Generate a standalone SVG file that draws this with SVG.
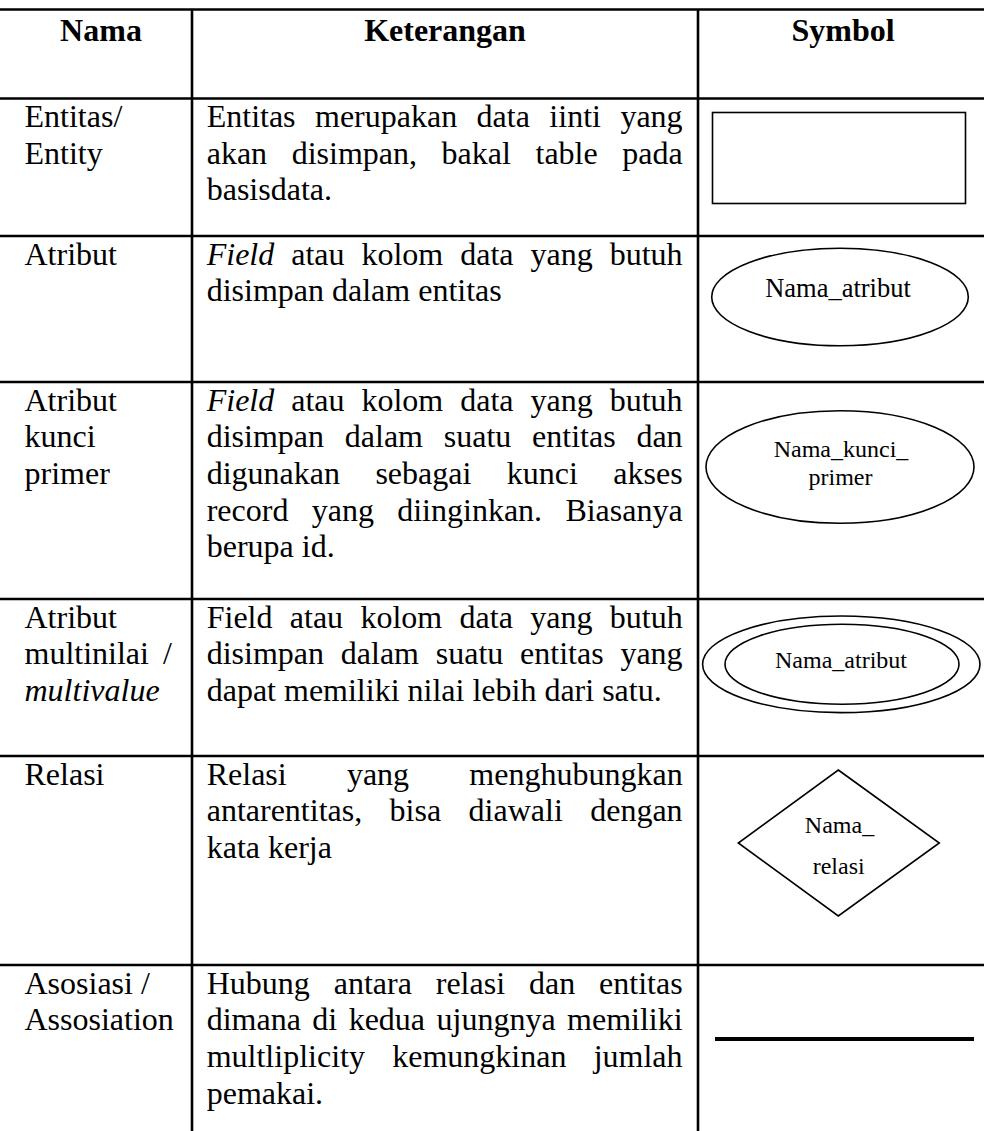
<svg xmlns="http://www.w3.org/2000/svg" width="984" height="1131" viewBox="0 0 984 1131">
<style>
.grid{stroke:#000;stroke-width:2.6;fill:none}
.shape{stroke:#000;stroke-width:1.6;fill:none}
.h{font-family:"Liberation Serif","Times New Roman",serif;font-size:32px;font-weight:bold;fill:#000}
.t{font-family:"Liberation Serif","Times New Roman",serif;font-size:32px;fill:#000}
.s{font-family:"Liberation Serif","Times New Roman",serif;font-size:24px;fill:#000}
.s2{font-family:"Liberation Serif","Times New Roman",serif;font-size:26.5px;fill:#000}
</style>
<rect width="984" height="1131" fill="#fff"/>
<g id="grid">
<line class="grid" x1="0" y1="9.5" x2="984" y2="9.5"/>
<line class="grid" x1="0" y1="98.5" x2="984" y2="98.5"/>
<line class="grid" x1="0" y1="236" x2="984" y2="236"/>
<line class="grid" x1="0" y1="382" x2="984" y2="382"/>
<line class="grid" x1="0" y1="599" x2="984" y2="599"/>
<line class="grid" x1="0" y1="756" x2="984" y2="756"/>
<line class="grid" x1="0" y1="965" x2="984" y2="965"/>
<line class="grid" x1="192" y1="9.5" x2="192" y2="1131"/>
<line class="grid" x1="698" y1="9.5" x2="698" y2="1131"/>
</g>
<g id="header">
<text class="h" x="101" y="40.5" text-anchor="middle">Nama</text>
<text class="h" x="445" y="40.5" text-anchor="middle">Keterangan</text>
<text class="h" x="843" y="40.5" text-anchor="middle">Symbol</text>
</g>
<g id="row-entitas">
<text class="t" x="24.5" y="127">Entitas/</text>
<text class="t" x="24.5" y="163.7">Entity</text>
<text class="t" x="206.7" y="127" word-spacing="11.45">Entitas merupakan data iinti yang</text>
<text class="t" x="206.7" y="163.7" word-spacing="16.6">akan disimpan, bakal table pada</text>
<text class="t" x="206.7" y="200.4">basisdata.</text>
<rect class="shape" x="712.5" y="112.5" width="253" height="91"/>
</g>
<g id="row-atribut">
<text class="t" x="24.5" y="264.5">Atribut</text>
<text class="t" x="206.7" y="264.5" word-spacing="8.98"><tspan font-style="italic">Field</tspan> atau kolom data yang butuh</text>
<text class="t" x="206.7" y="301.2">disimpan dalam entitas</text>
<ellipse class="shape" cx="840" cy="297" rx="128.3" ry="48.8"/>
<text class="s2" x="838" y="297" text-anchor="middle">Nama_atribut</text>
</g>
<g id="row-kunci">
<text class="t" x="24.5" y="410.5">Atribut</text>
<text class="t" x="24.5" y="447.2">kunci</text>
<text class="t" x="24.5" y="483.9">primer</text>
<text class="t" x="206.7" y="410.5" word-spacing="8.98"><tspan font-style="italic">Field</tspan> atau kolom data yang butuh</text>
<text class="t" x="206.7" y="447.2" word-spacing="12.78">disimpan dalam suatu entitas dan</text>
<text class="t" x="206.7" y="483.9" word-spacing="27.43">digunakan sebagai kunci akses</text>
<text class="t" x="206.7" y="520.6" word-spacing="15.3">record yang diinginkan. Biasanya</text>
<text class="t" x="206.7" y="557.3">berupa id.</text>
<ellipse class="shape" cx="840" cy="467" rx="134" ry="56.3"/>
<text class="s" x="841" y="457.3" text-anchor="middle">Nama_kunci_</text>
<text class="s" x="840.5" y="485" text-anchor="middle">primer</text>
</g>
<g id="row-multi">
<text class="t" x="24.5" y="627.5">Atribut</text>
<text class="t" x="24.5" y="664.2" word-spacing="6">multinilai /</text>
<text class="t" x="24.5" y="700.9" font-style="italic">multivalue</text>
<text class="t" x="206.7" y="627.5" word-spacing="9.34">Field atau kolom data yang butuh</text>
<text class="t" x="206.7" y="664.2" word-spacing="8.78">disimpan dalam suatu entitas yang</text>
<text class="t" x="206.7" y="700.9">dapat memiliki nilai lebih dari satu.</text>
<ellipse class="shape" cx="841.3" cy="664.3" rx="138.7" ry="48.3"/>
<ellipse class="shape" cx="842" cy="664.2" rx="117" ry="40"/>
<text class="s" x="841" y="668.3" text-anchor="middle">Nama_atribut</text>
</g>
<g id="row-relasi">
<text class="t" x="24.5" y="784.5">Relasi</text>
<text class="t" x="206.7" y="784.5" word-spacing="52.24">Relasi yang menghubungkan</text>
<text class="t" x="206.7" y="821.2" word-spacing="19.43">antarentitas, bisa diawali dengan</text>
<text class="t" x="206.7" y="857.9">kata kerja</text>
<polygon class="shape" points="838.3,770 939.3,843 838.3,916 738.3,843"/>
<text class="s" x="839.5" y="833" text-anchor="middle">Nama_</text>
<text class="s" x="838.7" y="874.3" text-anchor="middle">relasi</text>
</g>
<g id="row-asosiasi">
<text class="t" x="24.5" y="993.5">Asosiasi /</text>
<text class="t" x="24.5" y="1030.2">Assosiation</text>
<text class="t" x="206.7" y="993.5" word-spacing="15.9">Hubung antara relasi dan entitas</text>
<text class="t" x="206.7" y="1030.2" word-spacing="3.45">dimana di kedua ujungnya memiliki</text>
<text class="t" x="206.7" y="1066.9" word-spacing="19.3">multliplicity kemungkinan jumlah</text>
<text class="t" x="206.7" y="1103.6">pemakai.</text>
<line x1="715" y1="1039" x2="974" y2="1039" stroke="#000" stroke-width="4"/>
</g>
</svg>
